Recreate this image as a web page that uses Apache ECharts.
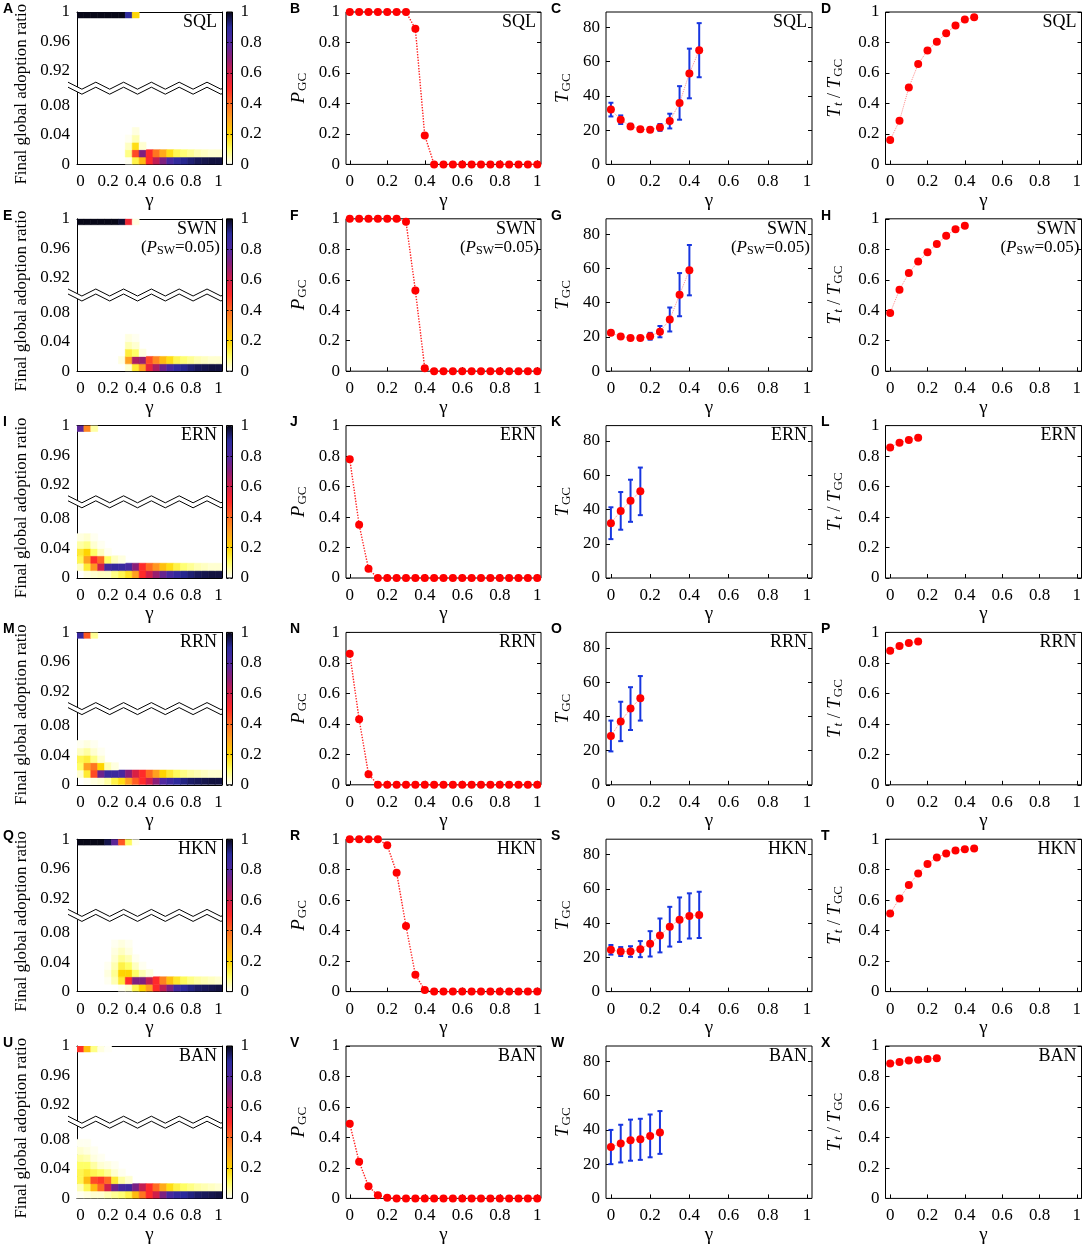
<!DOCTYPE html>
<html>
<head>
<meta charset="utf-8">
<title>Final global adoption</title>
<script src="https://cdn.jsdelivr.net/npm/echarts@6.0.0/dist/echarts.min.js"></script>
<style>
html, body { margin: 0; padding: 0; background: #fff; }
#chart { width: 1084px; height: 1246px; }
</style>
</head>
<body>
<div id="chart"></div>
<script>
// ---- data ----
const gamma = [0, 0.05, 0.1, 0.15, 0.2, 0.25, 0.3, 0.35, 0.4, 0.45, 0.5, 0.55, 0.6, 0.65, 0.7, 0.75, 0.8, 0.85, 0.9, 0.95, 1];
const xTicks = [0, 0.2, 0.4, 0.6, 0.8, 1];
const unitTicks = [0, 0.2, 0.4, 0.6, 0.8, 1];
const tgcTicks = [0, 20, 40, 60, 80];
const adoptTicksHigh = [0.92, 0.96, 1];
const adoptTicksLow = [0, 0.04, 0.08];
const networks = ['SQL', 'SWN', 'ERN', 'RRN', 'HKN', 'BAN'];
const letters = [['A', 'B', 'C', 'D'], ['E', 'F', 'G', 'H'], ['I', 'J', 'K', 'L'], ['M', 'N', 'O', 'P'], ['Q', 'R', 'S', 'T'], ['U', 'V', 'W', 'X']];

// P_GC (also the top row of the heatmaps, adoption ratio ~1)
const pgcSQL = [1, 1, 1, 1, 1, 1, 1, 0.89, 0.19, 0, 0, 0, 0, 0, 0, 0, 0, 0, 0, 0, 0];
const pgcSWN = [1, 1, 1, 1, 1, 1, 0.98, 0.53, 0.02, 0, 0, 0, 0, 0, 0, 0, 0, 0, 0, 0, 0];
const pgcERN = [0.78, 0.35, 0.06, 0, 0, 0, 0, 0, 0, 0, 0, 0, 0, 0, 0, 0, 0, 0, 0, 0, 0];
const pgcRRN = [0.86, 0.43, 0.07, 0, 0, 0, 0, 0, 0, 0, 0, 0, 0, 0, 0, 0, 0, 0, 0, 0, 0];
const pgcHKN = [1, 1, 1, 1, 0.96, 0.78, 0.43, 0.11, 0.01, 0, 0, 0, 0, 0, 0, 0, 0, 0, 0, 0, 0];
const pgcBAN = [0.49, 0.24, 0.08, 0.02, 0.005, 0, 0, 0, 0, 0, 0, 0, 0, 0, 0, 0, 0, 0, 0, 0, 0];

// heatmap rows near 0: row k covers adoption ratio k*0.01 .. (k+1)*0.01
const lowSQL = [
  [0, 0, 0, 0, 0, 0, 0, 0.01, 0.13, 0.25, 0.5, 0.62, 0.72, 0.82, 0.88, 0.91, 0.93, 0.95, 0.96, 0.97, 0.97],
  [0, 0, 0, 0, 0, 0, 0, 0.08, 0.45, 0.72, 0.5, 0.38, 0.28, 0.18, 0.12, 0.09, 0.07, 0.05, 0.04, 0.03, 0.03],
  [0, 0, 0, 0, 0, 0, 0, 0.04, 0.18, 0.03, 0, 0, 0, 0, 0, 0, 0, 0, 0, 0, 0],
  [0, 0, 0, 0, 0, 0, 0, 0.01, 0.05, 0, 0, 0, 0, 0, 0, 0, 0, 0, 0, 0, 0],
  [0, 0, 0, 0, 0, 0, 0, 0, 0.02, 0, 0, 0, 0, 0, 0, 0, 0, 0, 0, 0, 0]
];
const lowSWN = [
  [0, 0, 0, 0, 0, 0, 0, 0.03, 0.15, 0.3, 0.55, 0.65, 0.75, 0.82, 0.88, 0.91, 0.93, 0.95, 0.96, 0.97, 0.97],
  [0, 0, 0, 0, 0, 0, 0.02, 0.3, 0.65, 0.68, 0.45, 0.35, 0.25, 0.18, 0.12, 0.09, 0.07, 0.05, 0.04, 0.03, 0.03],
  [0, 0, 0, 0, 0, 0, 0, 0.14, 0.1, 0.02, 0, 0, 0, 0, 0, 0, 0, 0, 0, 0, 0],
  [0, 0, 0, 0, 0, 0, 0, 0.05, 0.03, 0, 0, 0, 0, 0, 0, 0, 0, 0, 0, 0, 0],
  [0, 0, 0, 0, 0, 0, 0, 0.02, 0.01, 0, 0, 0, 0, 0, 0, 0, 0, 0, 0, 0, 0]
];
const lowERN = [
  [0, 0.02, 0.03, 0.04, 0.04, 0.08, 0.12, 0.17, 0.3, 0.5, 0.6, 0.68, 0.76, 0.82, 0.87, 0.91, 0.93, 0.95, 0.96, 0.97, 0.97],
  [0.04, 0.15, 0.32, 0.6, 0.84, 0.87, 0.86, 0.83, 0.7, 0.5, 0.4, 0.32, 0.24, 0.18, 0.13, 0.09, 0.07, 0.05, 0.04, 0.03, 0.03],
  [0.12, 0.3, 0.5, 0.4, 0.1, 0.04, 0.02, 0, 0, 0, 0, 0, 0, 0, 0, 0, 0, 0, 0, 0, 0],
  [0.15, 0.2, 0.1, 0.04, 0.01, 0, 0, 0, 0, 0, 0, 0, 0, 0, 0, 0, 0, 0, 0, 0, 0],
  [0.06, 0.08, 0.03, 0.01, 0, 0, 0, 0, 0, 0, 0, 0, 0, 0, 0, 0, 0, 0, 0, 0, 0],
  [0.02, 0.03, 0.01, 0, 0, 0, 0, 0, 0, 0, 0, 0, 0, 0, 0, 0, 0, 0, 0, 0, 0]
];
const lowRRN = [
  [0, 0.01, 0.02, 0.03, 0.06, 0.13, 0.18, 0.3, 0.42, 0.5, 0.6, 0.7, 0.8, 0.85, 0.89, 0.92, 0.94, 0.95, 0.96, 0.97, 0.97],
  [0.03, 0.15, 0.45, 0.75, 0.86, 0.85, 0.82, 0.7, 0.58, 0.5, 0.4, 0.3, 0.2, 0.15, 0.11, 0.08, 0.06, 0.05, 0.04, 0.03, 0.03],
  [0.1, 0.3, 0.38, 0.2, 0.05, 0.02, 0, 0, 0, 0, 0, 0, 0, 0, 0, 0, 0, 0, 0, 0, 0],
  [0.12, 0.14, 0.08, 0.03, 0, 0, 0, 0, 0, 0, 0, 0, 0, 0, 0, 0, 0, 0, 0, 0, 0],
  [0.04, 0.06, 0.03, 0.01, 0, 0, 0, 0, 0, 0, 0, 0, 0, 0, 0, 0, 0, 0, 0, 0, 0],
  [0.01, 0.02, 0.01, 0, 0, 0, 0, 0, 0, 0, 0, 0, 0, 0, 0, 0, 0, 0, 0, 0, 0]
];
const lowHKN = [
  [0, 0, 0, 0, 0, 0, 0.01, 0.03, 0.12, 0.2, 0.3, 0.5, 0.62, 0.72, 0.84, 0.89, 0.92, 0.94, 0.95, 0.96, 0.97],
  [0, 0, 0, 0, 0.01, 0.05, 0.15, 0.5, 0.72, 0.72, 0.62, 0.5, 0.36, 0.24, 0.16, 0.11, 0.08, 0.06, 0.05, 0.04, 0.03],
  [0, 0, 0, 0, 0.02, 0.07, 0.2, 0.2, 0.1, 0.05, 0.02, 0, 0, 0, 0, 0, 0, 0, 0, 0, 0],
  [0, 0, 0, 0, 0.01, 0.05, 0.13, 0.1, 0.04, 0.01, 0, 0, 0, 0, 0, 0, 0, 0, 0, 0, 0],
  [0, 0, 0, 0, 0, 0.03, 0.07, 0.05, 0.01, 0, 0, 0, 0, 0, 0, 0, 0, 0, 0, 0, 0],
  [0, 0, 0, 0, 0, 0.02, 0.04, 0.02, 0, 0, 0, 0, 0, 0, 0, 0, 0, 0, 0, 0, 0],
  [0, 0, 0, 0, 0, 0.01, 0.02, 0.01, 0, 0, 0, 0, 0, 0, 0, 0, 0, 0, 0, 0, 0]
];
const lowBAN = [
  [0.01, 0.02, 0.03, 0.03, 0.05, 0.07, 0.09, 0.13, 0.25, 0.38, 0.5, 0.6, 0.72, 0.82, 0.87, 0.9, 0.92, 0.94, 0.95, 0.96, 0.97],
  [0.05, 0.12, 0.25, 0.4, 0.6, 0.75, 0.83, 0.85, 0.73, 0.62, 0.5, 0.4, 0.28, 0.18, 0.13, 0.1, 0.08, 0.06, 0.05, 0.04, 0.03],
  [0.12, 0.25, 0.45, 0.48, 0.4, 0.15, 0.06, 0.03, 0, 0, 0, 0, 0, 0, 0, 0, 0, 0, 0, 0, 0],
  [0.12, 0.15, 0.12, 0.1, 0.07, 0.03, 0.01, 0, 0, 0, 0, 0, 0, 0, 0, 0, 0, 0, 0, 0, 0],
  [0.1, 0.1, 0.06, 0.03, 0.02, 0.01, 0, 0, 0, 0, 0, 0, 0, 0, 0, 0, 0, 0, 0, 0, 0],
  [0.06, 0.05, 0.02, 0.01, 0, 0, 0, 0, 0, 0, 0, 0, 0, 0, 0, 0, 0, 0, 0, 0, 0],
  [0.03, 0.02, 0.01, 0, 0, 0, 0, 0, 0, 0, 0, 0, 0, 0, 0, 0, 0, 0, 0, 0, 0],
  [0.01, 0.01, 0, 0, 0, 0, 0, 0, 0, 0, 0, 0, 0, 0, 0, 0, 0, 0, 0, 0, 0]
];

// T_GC mean and error, starting at gamma = 0
const tgcSQL = [32, 26.1, 22.2, 20.6, 20.2, 21.6, 25.3, 35.9, 53.1, 66.7];
const errSQL = [4, 2.5, 1.5, 1, 1.2, 2, 4.3, 9.8, 14.5, 15.8];
const tgcSWN = [22.4, 20.2, 19.4, 19.4, 20.4, 23.1, 30.2, 44.7, 59];
const errSWN = [1, 0.8, 0.8, 1, 2, 3.3, 7, 12.6, 14.7];
const tgcERN = [32, 39.2, 45.1, 50.6];
const errERN = [9.3, 11, 12.3, 13.9];
const tgcRRN = [28.5, 37, 44.5, 50.5];
const errRRN = [9, 11.5, 12.5, 13];
const tgcHKN = [24.4, 23.4, 23.4, 24.8, 27.9, 32.8, 37.9, 42, 44.2, 44.8];
const errHKN = [2.8, 2.6, 3.1, 4.7, 7.4, 9.9, 11.6, 13, 13.2, 13.5];
const tgcBAN = [30, 32, 34, 34.5, 36.5, 38.5];
const errBAN = [10, 11, 12, 12, 12.5, 12.5];

// T_t / T_GC
const ratioSQL = [0.16, 0.287, 0.504, 0.658, 0.748, 0.805, 0.86, 0.912, 0.95, 0.965];
const ratioSWN = [0.382, 0.535, 0.644, 0.72, 0.78, 0.834, 0.889, 0.932, 0.954];
const ratioERN = [0.857, 0.888, 0.906, 0.921];
const ratioRRN = [0.88, 0.91, 0.93, 0.94];
const ratioHKN = [0.513, 0.611, 0.699, 0.775, 0.838, 0.88, 0.906, 0.926, 0.934, 0.939];
const ratioBAN = [0.885, 0.895, 0.905, 0.91, 0.915, 0.92];

// gnuplot-like heat palette, 0 -> 1
const CMAP = ['#ffffff', '#ffff66', '#ffd400', '#ffa020', '#ff6a20', '#ff2a2a', '#d01e4a', '#8a1e78', '#5028a0', '#2a2a9c', '#080818'];

// ---- layout ----
const SERIF = 'Liberation Serif';
const FS = 17;
const ROW_TOP = 12, ROW_STEP = 206.8, PLOT_H = 152.4;
const SPAN = 0.1033;      // adoption range shown on each side of the axis break
const TOP_CELL = 0.992;   // lower edge of the top heatmap row
const HM = { left: 77, width: 145, xmin: -0.025, xmax: 1.025 };
const CB = { left: 226.5, width: 6 };
const PANELS = [
  { left: 346, width: 195, xmin: -0.02, xmax: 1.02, ymax: 1, ticks: unitTicks, gap: 37 },
  { left: 606, width: 206, xmin: -0.025, xmax: 1.025, ymax: 89, ticks: tgcTicks, gap: 33 },
  { left: 885.5, width: 196, xmin: -0.025, xmax: 1.025, ymax: 1, ticks: unitTicks, gap: 40 }
];
const LETTER_X = [3, 290, 551, 821];

const rows = [
  { pgc: pgcSQL, low: lowSQL, tgc: tgcSQL, err: errSQL, ratio: ratioSQL },
  { pgc: pgcSWN, low: lowSWN, tgc: tgcSWN, err: errSWN, ratio: ratioSWN },
  { pgc: pgcERN, low: lowERN, tgc: tgcERN, err: errERN, ratio: ratioERN },
  { pgc: pgcRRN, low: lowRRN, tgc: tgcRRN, err: errRRN, ratio: ratioRRN },
  { pgc: pgcHKN, low: lowHKN, tgc: tgcHKN, err: errHKN, ratio: ratioHKN },
  { pgc: pgcBAN, low: lowBAN, tgc: tgcBAN, err: errBAN, ratio: ratioBAN }
];

const subRich = {
  i: { fontStyle: 'italic', fontSize: 19, fontFamily: SERIF, color: '#000' },
  si: { fontStyle: 'italic', fontSize: 13, fontFamily: SERIF, color: '#000', padding: [8, 0, 0, 1] },
  s: { fontSize: 13, fontFamily: SERIF, color: '#000', padding: [8, 0, 0, 1] },
  n: { fontSize: 18, fontFamily: SERIF, color: '#000' }
};
const yNames = ['{i|P}{s|GC}', '{i|T}{s|GC}', '{i|T}{si|t}{n| / }{i|T}{s|GC}'];

const option = {
  animation: false,
  textStyle: { fontFamily: SERIF },
  grid: [], xAxis: [], yAxis: [], series: [], visualMap: [], graphic: []
};

function fmt(v) { return String(Math.round(v * 100) / 100); }

function addGrid(cfg) {
  option.grid.push(Object.assign({ outerBoundsMode: 'none', show: false }, cfg));
  return option.grid.length - 1;
}
function addAxis(kind, cfg) {
  option[kind].push(cfg);
  return option[kind].length - 1;
}
function axisCfg(gi, position, min, max, ticks, o) {
  o = o || {};
  return {
    type: 'value', gridIndex: gi, position: position, min: min, max: max,
    splitLine: { show: false },
    axisLine: { show: !!o.line, onZero: false, lineStyle: { color: '#000', width: 1 } },
    axisTick: { show: !!o.tickLen, inside: true, length: o.tickLen || 0, customValues: ticks, lineStyle: { color: '#000', width: 1 } },
    axisLabel: { show: !!o.label, customValues: ticks, color: '#000', fontFamily: SERIF, fontSize: FS, margin: o.margin == null ? 8 : o.margin, formatter: fmt },
    z: o.z || 0
  };
}
const gammaName = {
  name: 'γ', nameLocation: 'middle', nameGap: 26,
  nameTextStyle: { fontFamily: SERIF, fontSize: 19, color: '#000' }
};

// one heat cell: [gamma, y0, y1, value]
function cellItem(params, api) {
  const x = api.value(0);
  const a = api.coord([x - 0.025, api.value(2)]);
  const b = api.coord([x + 0.025, api.value(1)]);
  const c = api.visual('color');
  return {
    type: 'rect',
    shape: { x: a[0], y: a[1], width: b[0] - a[0], height: b[1] - a[1] },
    style: { fill: c, stroke: c, lineWidth: 0.6 }
  };
}
// error bar with caps: [gamma, low, high]
function errItem(params, api) {
  const x = api.value(0);
  const p0 = api.coord([x, api.value(1)]);
  const p1 = api.coord([x, api.value(2)]);
  const cap = 2.5;
  const st = { stroke: '#1736e0', lineWidth: 2 };
  return {
    type: 'group',
    children: [
      { type: 'line', shape: { x1: p0[0], y1: p0[1], x2: p1[0], y2: p1[1] }, style: st },
      { type: 'line', shape: { x1: p0[0] - cap, y1: p0[1], x2: p0[0] + cap, y2: p0[1] }, style: st },
      { type: 'line', shape: { x1: p1[0] - cap, y1: p1[1], x2: p1[0] + cap, y2: p1[1] }, style: st }
    ]
  };
}
function dotLine(xi, yi, ys, lineColor, lineWidth) {
  return {
    type: 'line', xAxisIndex: xi, yAxisIndex: yi, silent: true, clip: false,
    data: ys.map((v, i) => [gamma[i], v]),
    symbol: 'circle', symbolSize: 8, showSymbol: true, showAllSymbol: true,
    itemStyle: { color: '#ff0000' },
    lineStyle: { color: lineColor, width: lineWidth, type: 'dotted' },
    z: 3
  };
}

// zigzag break drawn across the heatmap axis
function zigzag(cy) {
  const x0 = HM.left - 9, x1 = HM.left + HM.width, step = 13.9, amp = 3.5;
  const tri = x => {
    const t = (x - x0) / step, k = Math.floor(t), f = t - k;
    return k % 2 === 0 ? -amp + 2 * amp * f : amp - 2 * amp * f;
  };
  const xs = [];
  for (let x = x0; x < x1; x += step) xs.push(x);
  xs.push(x1);
  const up = xs.map(x => [x, cy + tri(x) - 2.5]);
  const dn = xs.map(x => [x, cy + tri(x) + 2.5]);
  return [
    { type: 'polygon', shape: { points: up.concat(dn.slice().reverse()) }, style: { fill: '#fff' }, z: 100, silent: true },
    { type: 'polyline', shape: { points: up }, style: { stroke: '#000', lineWidth: 1, fill: null }, z: 101, silent: true },
    { type: 'polyline', shape: { points: dn }, style: { stroke: '#000', lineWidth: 1, fill: null }, z: 101, silent: true }
  ];
}

function annotate(right, top, r) {
  const els = [{
    type: 'text', x: right - 5, y: top + 10, z: 100, silent: true,
    style: { text: networks[r], fontSize: 18, fontFamily: SERIF, fill: '#000', textAlign: 'right', textVerticalAlign: 'middle' }
  }];
  if (networks[r] === 'SWN') {
    els.push({
      type: 'text', x: right - 2, y: top + 29, z: 100, silent: true,
      style: {
        text: '({i|P}{s|SW}=0.05)', fontSize: 17, fontFamily: SERIF, fill: '#000', textAlign: 'right', textVerticalAlign: 'middle',
        rich: {
          i: { fontStyle: 'italic', fontSize: 17, fontFamily: SERIF },
          s: { fontSize: 12, fontFamily: SERIF, padding: [7, 0, 0, 0] }
        }
      }
    });
  }
  return els;
}

rows.forEach((row, r) => {
  const top = ROW_TOP + r * ROW_STEP;
  const half = PLOT_H / 2;

  // --- heatmap with broken y axis ---
  const gU = addGrid({ left: HM.left, top: top, width: HM.width, height: half });
  const gL = addGrid({ left: HM.left, top: top + half, width: HM.width, height: half });
  const xU = addAxis('xAxis', axisCfg(gU, 'top', HM.xmin, HM.xmax, xTicks, { line: true }));
  const yU = addAxis('yAxis', axisCfg(gU, 'left', 1 - SPAN, 1, adoptTicksHigh, { line: true, label: true, margin: 7 }));
  addAxis('yAxis', axisCfg(gU, 'right', 1 - SPAN, 1, adoptTicksHigh, { line: true }));
  const xL = addAxis('xAxis', Object.assign(axisCfg(gL, 'bottom', HM.xmin, HM.xmax, xTicks, { line: true, label: true, margin: 9 }), gammaName));
  const yL = addAxis('yAxis', axisCfg(gL, 'left', 0, SPAN, adoptTicksLow, { line: true, label: true, margin: 7 }));
  addAxis('yAxis', axisCfg(gL, 'right', 0, SPAN, adoptTicksLow, { line: true }));

  const topCells = [];
  row.pgc.forEach((v, i) => { if (v > 0) topCells.push([gamma[i], TOP_CELL, 1, v]); });
  const lowCells = [];
  row.low.forEach((vals, k) => vals.forEach((v, i) => { if (v > 0) lowCells.push([gamma[i], k * 0.01, (k + 1) * 0.01, v]); }));

  const sFirst = option.series.length;
  option.series.push({ type: 'custom', xAxisIndex: xU, yAxisIndex: yU, renderItem: cellItem, clip: true, silent: true, encode: { x: 0, y: [1, 2] }, data: topCells, z: 2 });
  option.series.push({ type: 'custom', xAxisIndex: xL, yAxisIndex: yL, renderItem: cellItem, clip: true, silent: true, encode: { x: 0, y: [1, 2] }, data: lowCells, z: 2 });

  option.visualMap.push({
    type: 'continuous', min: 0, max: 1, dimension: 3, seriesIndex: [sFirst, sFirst + 1],
    calculable: false, hoverLink: false, orient: 'vertical',
    left: CB.left, top: top, itemWidth: CB.width, itemHeight: PLOT_H, padding: 0,
    inRange: { color: CMAP }, z: 1
  });
  const gC = addGrid({ left: CB.left, top: top, width: CB.width, height: PLOT_H, show: true, borderColor: '#000', borderWidth: 1, backgroundColor: 'transparent', z: 10 });
  addAxis('xAxis', { type: 'value', gridIndex: gC, show: false, min: 0, max: 1 });
  addAxis('yAxis', axisCfg(gC, 'right', 0, 1, unitTicks, { label: true, tickLen: 2, margin: 8, z: 10 }));
  addAxis('yAxis', axisCfg(gC, 'left', 0, 1, unitTicks, { tickLen: 2, z: 10 }));

  option.graphic.push(...zigzag(top + half));
  option.graphic.push(...annotate(HM.left + HM.width, top, r));
  option.graphic.push({
    type: 'text', x: 22, y: top + PLOT_H / 2 + 6, rotation: Math.PI / 2, silent: true,
    style: { text: 'Final global adoption ratio', fontSize: 17, fontFamily: SERIF, fill: '#000', textAlign: 'center', textVerticalAlign: 'middle' }
  });

  // --- P_GC, T_GC, T_t/T_GC panels ---
  PANELS.forEach((P, c) => {
    const g = addGrid({ left: P.left, top: top, width: P.width, height: PLOT_H, show: true, borderColor: '#000', borderWidth: 1, backgroundColor: 'transparent' });
    const xi = addAxis('xAxis', Object.assign(axisCfg(g, 'bottom', P.xmin, P.xmax, xTicks, { label: true, tickLen: 4, margin: 9 }), gammaName));
    const yi = addAxis('yAxis', Object.assign(axisCfg(g, 'left', 0, P.ymax, P.ticks, { label: true, tickLen: 4, margin: 6 }), {
      name: yNames[c], nameLocation: 'middle', nameGap: P.gap, nameRotate: 90,
      nameTextStyle: { fontFamily: SERIF, fontSize: 18, color: '#000', rich: subRich }
    }));
    addAxis('yAxis', axisCfg(g, 'right', 0, P.ymax, P.ticks, { tickLen: 4 }));

    if (c === 0) {
      option.series.push(dotLine(xi, yi, row.pgc, '#ff2020', 1.4));
    } else if (c === 1) {
      option.series.push({
        type: 'custom', xAxisIndex: xi, yAxisIndex: yi, renderItem: errItem, clip: false, silent: true,
        encode: { x: 0, y: [1, 2] }, z: 2,
        data: row.tgc.map((v, i) => [gamma[i], v - row.err[i], v + row.err[i]])
      });
      option.series.push(dotLine(xi, yi, row.tgc, '#ff8a8a', 1));
    } else {
      option.series.push(dotLine(xi, yi, row.ratio, '#ff8a8a', 1));
    }
    option.graphic.push(...annotate(P.left + P.width, top, r));
  });

  letters[r].forEach((L, c) => {
    option.graphic.push({
      type: 'text', x: LETTER_X[c], y: top - 3, silent: true,
      style: { text: L, fontSize: 14, fontWeight: 'bold', fontFamily: 'Liberation Sans', fill: '#000', textAlign: 'left', textVerticalAlign: 'middle' }
    });
  });
});

const chart = echarts.init(document.getElementById('chart'), null, { renderer: 'canvas' });
chart.setOption(option);
</script>
</body>
</html>
